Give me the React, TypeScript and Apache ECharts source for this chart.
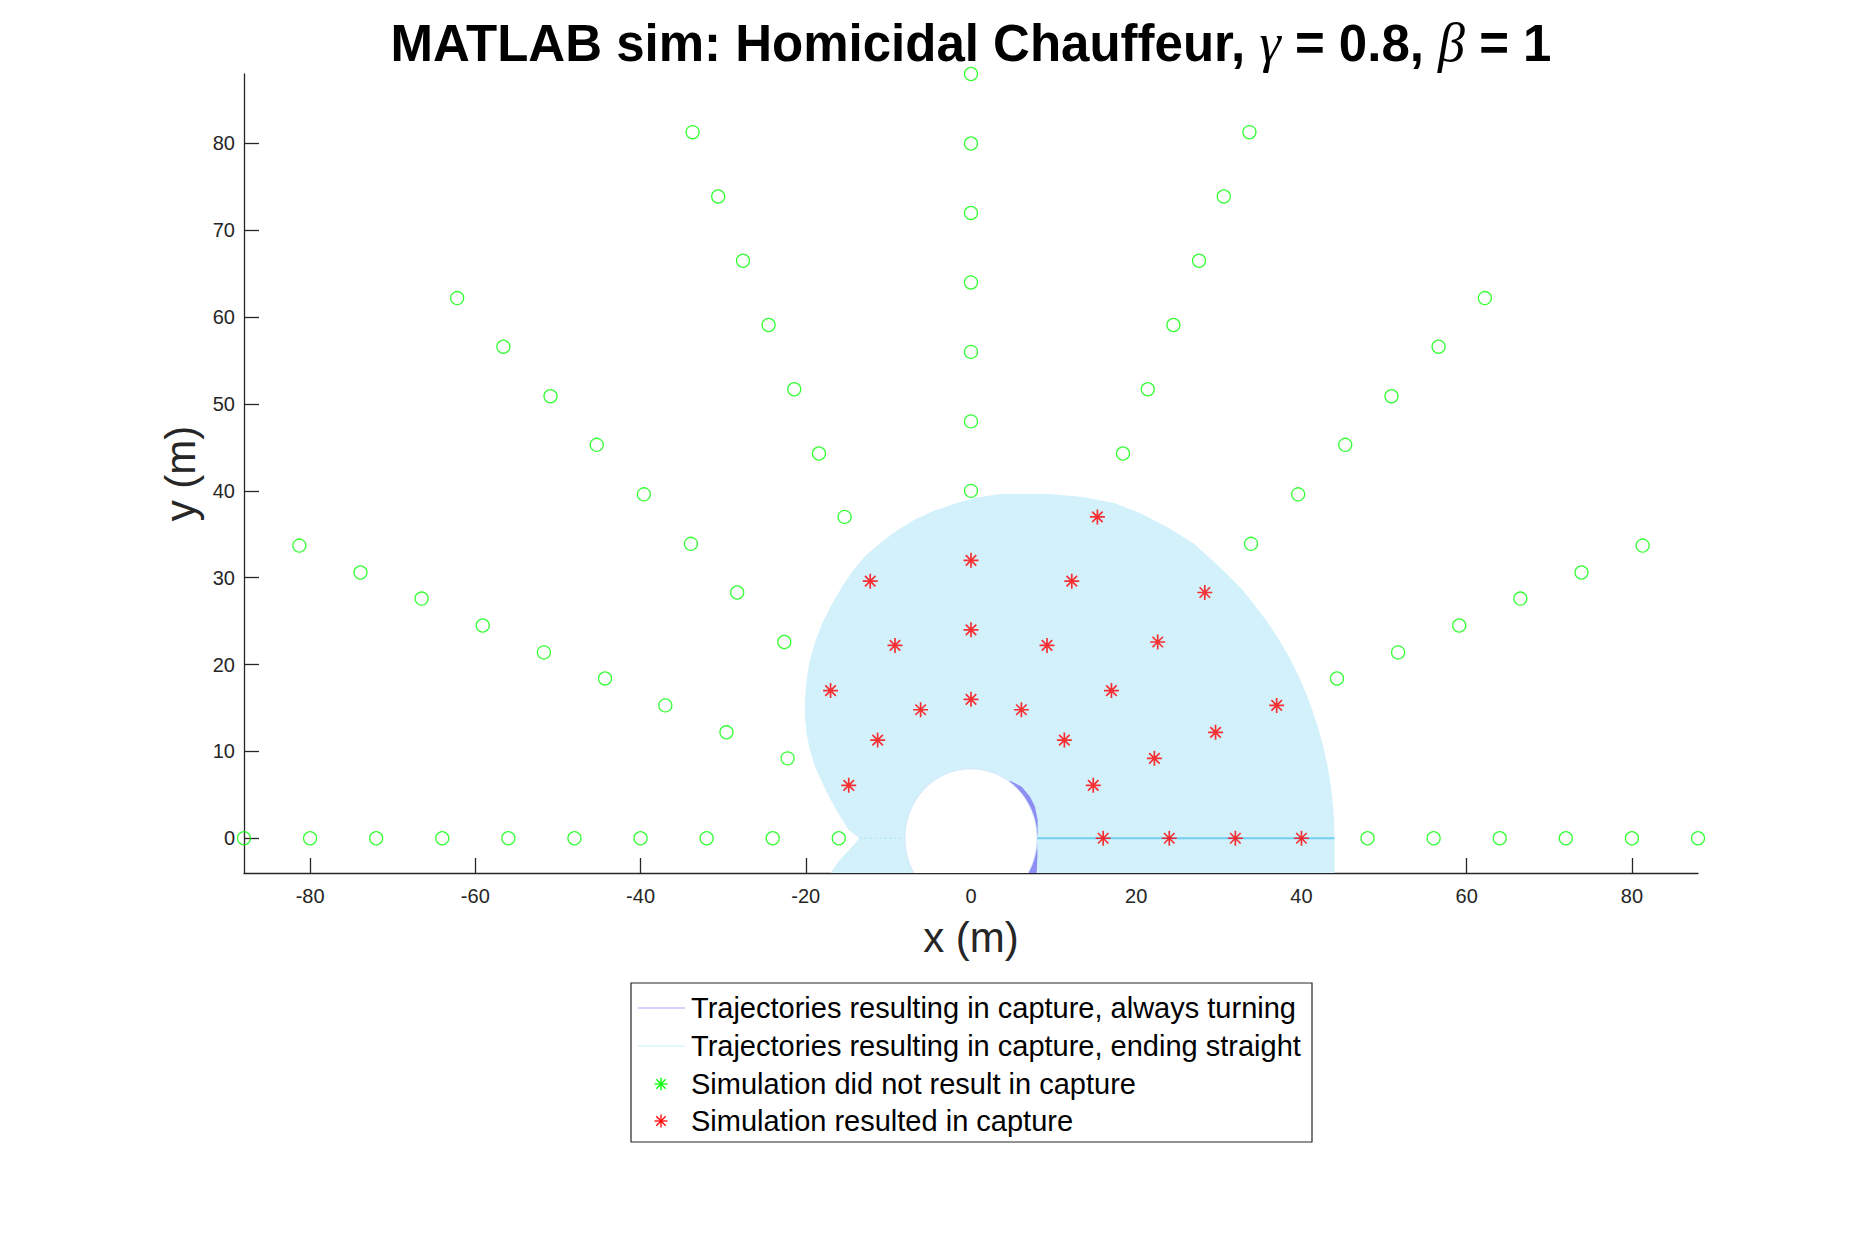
import React, { useEffect, useRef } from "react";
import * as echarts from "echarts";

// ---------------- data ----------------
const xTicks = [-80, -60, -40, -20, 0, 20, 40, 60, 80];
const yTicks = [0, 10, 20, 30, 40, 50, 60, 70, 80];

const legendLabels = [
  "Trajectories resulting in capture, always turning",
  "Trajectories resulting in capture, ending straight",
  "Simulation did not result in capture",
  "Simulation resulted in capture",
];

// initial positions whose simulation did NOT end in capture
const notCaptured: [number, number][] = [
  [48, 0], [56, 0], [64, 0], [72, 0], [80, 0], [88, 0],
  [44.3, 18.4], [51.7, 21.4], [59.1, 24.5], [66.5, 27.6], [73.9, 30.6], [81.3, 33.7],
  [33.9, 33.9], [39.6, 39.6], [45.3, 45.3], [50.9, 50.9], [56.6, 56.6], [62.2, 62.2],
  [18.4, 44.3], [21.4, 51.7], [24.5, 59.1], [27.6, 66.5], [30.6, 73.9], [33.7, 81.3],
  [0, 40], [0, 48], [0, 56], [0, 64], [0, 72], [0, 80], [0, 88],
  [-15.3, 37.0], [-18.4, 44.3], [-21.4, 51.7], [-24.5, 59.1], [-27.6, 66.5], [-30.6, 73.9], [-33.7, 81.3],
  [-22.6, 22.6], [-28.3, 28.3], [-33.9, 33.9], [-39.6, 39.6], [-45.3, 45.3], [-50.9, 50.9], [-56.6, 56.6], [-62.2, 62.2],
  [-22.2, 9.2], [-29.6, 12.2], [-37.0, 15.3], [-44.3, 18.4], [-51.7, 21.4], [-59.1, 24.5], [-66.5, 27.6], [-73.9, 30.6], [-81.3, 33.7],
  [-16, 0], [-24, 0], [-32, 0], [-40, 0], [-48, 0], [-56, 0], [-64, 0], [-72, 0], [-80, 0], [-88, 0],
];

// initial positions whose simulation ended in capture
const captured: [number, number][] = [
  [16, 0], [24, 0], [32, 0], [40, 0],
  [14.8, 6.1], [22.2, 9.2], [29.6, 12.2], [37.0, 15.3],
  [11.3, 11.3], [17.0, 17.0], [22.6, 22.6], [28.3, 28.3],
  [6.1, 14.8], [9.2, 22.2], [12.2, 29.6], [15.3, 37.0],
  [0, 16], [0, 24], [0, 32],
  [-6.1, 14.8], [-9.2, 22.2], [-12.2, 29.6],
  [-11.3, 11.3], [-17.0, 17.0],
  [-14.8, 6.1],
];

// outline of the area swept by "ending straight" trajectories
const endingStraightRegion: [number, number][] = [
  [44, -4], [44, 0], [43.95, 2], [43.8, 4], [43.5, 6.4], [43.1, 8.6], [42.6, 10.7],
  [42.0, 12.8], [41.3, 14.8], [40.5, 16.8], [39.6, 18.8], [38.5, 20.9], [37.2, 23.0],
  [35.8, 25.0], [34.2, 27.0], [32.7, 28.8], [31.0, 30.4], [29.2, 32.0], [27.0, 33.9],
  [24.0, 35.7], [20.6, 37.4], [17.3, 38.6], [13.5, 39.3], [9.6, 39.65], [3.5, 39.65],
  [0.5, 39.2], [-1.7, 38.6], [-4.5, 37.7], [-6.9, 36.65], [-9.0, 35.4], [-11.0, 34.0],
  [-12.8, 32.5], [-14.3, 30.8], [-15.6, 29.0], [-16.8, 27.0], [-17.9, 25.0], [-18.8, 22.8],
  [-19.5, 20.5], [-19.9, 18.3], [-20.1, 16.0], [-20.1, 14.0], [-19.9, 12.0], [-19.5, 10.2],
  [-18.9, 8.3], [-18.1, 6.6], [-17.2, 4.8], [-16.1, 2.9], [-14.8, 0.95], [-13.5, 0],
  [-14.4, -0.97], [-15.9, -2.5], [-17.0, -4],
];

// outline of the "always turning" trajectories (crescents beside the capture circle)
const alwaysTurningUpper: [number, number][] = [
  [4.72, 6.63], [6.14, 5.94], [7.15, 4.79], [7.75, 3.64], [8.07, 2.1], [8.07, 0.6], [7.95, 0], [0, 0],
];
const alwaysTurningLower: [number, number][] = [
  [7.95, 0], [8.05, -1.7], [7.95, -4], [0, -4], [0, 0],
];

// final straight segments along the x axis
const straightFinal: [number, number][] = [[8, 0], [44, 0]];
const leftSeam: [number, number][] = [[-13.5, 0], [-8, 0]];

// capture circle: centre x, centre y, radius
const captureCircle: [number, number, number][] = [[0, 0, 8]];

// ---------------- styles ----------------
const AX = "#262626";
const CYAN_FILL = "#d2f1fb";
const CYAN_LINE = "#72cff1";
const BLUE_FILL = "#8d8df3";
const GREEN = "#00ff00";
const RED = "#ff0000";
const FONT = "'Liberation Sans', Arial, Helvetica, sans-serif";
const ASTERISK =
  "path://M6 0 L6 12 M0 6 L12 6 M1.8 1.8 L10.2 10.2 M1.8 10.2 L10.2 1.8";

function polygonSeries(name: string, pts: [number, number][], fill: string, z: number) {
  return {
    type: "custom",
    name,
    z,
    clip: true,
    silent: true,
    data: pts,
    encode: { x: 0, y: 1 },
    renderItem: (params: any, api: any) => {
      if (params.dataIndex !== 0) return null;
      const points = pts.map((p) => api.coord(p));
      return { type: "polygon", shape: { points }, style: { fill, stroke: "none" } };
    },
  };
}

function asteriskLines(cx: number, cy: number, color: string, r: number) {
  const d = r * 0.72;
  const segs = [
    [0, -r, 0, r],
    [-r, 0, r, 0],
    [-d, -d, d, d],
    [-d, d, d, -d],
  ];
  return segs.map((s) => ({
    type: "line",
    z: 12,
    shape: { x1: cx + s[0], y1: cy + s[1], x2: cx + s[2], y2: cy + s[3] },
    style: { stroke: color, lineWidth: 1.3 },
  }));
}

export default function App() {
  const ref = useRef<HTMLDivElement>(null);

  useEffect(() => {
    if (!ref.current) return;
    const chart = echarts.init(ref.current, undefined, { renderer: "svg" });

    const legendX = 631;
    const legendY = 983;
    const legendW = 681;
    const legendH = 159;
    const rowY = [1008, 1046, 1084, 1121];
    const legendMarks: any[] = [
      {
        type: "line",
        z: 12,
        shape: { x1: 638, y1: rowY[0], x2: 685, y2: rowY[0] },
        style: { stroke: "#a3a3f4", lineWidth: 1.2 },
      },
      {
        type: "line",
        z: 12,
        shape: { x1: 638, y1: rowY[1], x2: 685, y2: rowY[1] },
        style: { stroke: "#c9edfb", lineWidth: 1.2 },
      },
      ...asteriskLines(661, rowY[2], GREEN, 6.5),
      ...asteriskLines(661, rowY[3], RED, 6.5),
    ];
    const legendTexts = legendLabels.map((t, i) => ({
      type: "text",
      z: 12,
      x: 691,
      y: rowY[i],
      style: {
        text: t,
        fontFamily: FONT,
        fontSize: 29,
        fill: "#000",
        align: "left",
        verticalAlign: "middle",
      },
    }));

    const option: any = {
      animation: false,
      backgroundColor: "#ffffff",
      grid: {
        left: 244,
        top: 74,
        width: 1454,
        height: 799,
        containLabel: false,
        outerBoundsMode: "none",
      },
      xAxis: {
        type: "value",
        min: -88,
        max: 88,
        name: "x (m)",
        nameLocation: "middle",
        nameGap: 43,
        nameTextStyle: { fontFamily: FONT, fontSize: 42, color: AX },
        axisLine: { show: true, onZero: false, lineStyle: { color: AX, width: 1.3 } },
        axisTick: {
          show: true,
          inside: true,
          length: 15,
          customValues: xTicks,
          lineStyle: { color: AX, width: 1.3 },
        },
        axisLabel: {
          customValues: xTicks,
          fontFamily: FONT,
          fontSize: 20,
          color: AX,
          margin: 13,
        },
        splitLine: { show: false },
      },
      yAxis: {
        type: "value",
        min: -4,
        max: 88,
        name: "y (m)",
        nameLocation: "middle",
        nameGap: 39,
        nameRotate: 90,
        nameTextStyle: { fontFamily: FONT, fontSize: 42, color: AX },
        axisLine: { show: true, onZero: false, lineStyle: { color: AX, width: 1.3 } },
        axisTick: {
          show: true,
          inside: true,
          length: 15,
          customValues: yTicks,
          lineStyle: { color: AX, width: 1.3 },
        },
        axisLabel: {
          customValues: yTicks,
          fontFamily: FONT,
          fontSize: 20,
          color: AX,
          margin: 9,
        },
        splitLine: { show: false },
      },
      series: [
        polygonSeries(legendLabels[1], endingStraightRegion, CYAN_FILL, 1),
        polygonSeries(legendLabels[0], alwaysTurningUpper, BLUE_FILL, 2),
        polygonSeries(legendLabels[0] + " ", alwaysTurningLower, BLUE_FILL, 2),
        {
          type: "custom",
          name: "capture circle",
          z: 3,
          clip: true,
          silent: true,
          data: captureCircle,
          encode: { x: 0, y: 1 },
          renderItem: (params: any, api: any) => {
            const c = api.coord([api.value(0), api.value(1)]);
            const s = api.size([api.value(2), api.value(2)], [api.value(0), api.value(1)]);
            return {
              type: "ellipse",
              shape: { cx: c[0], cy: c[1], rx: s[0], ry: s[1] },
              style: { fill: "#ffffff", stroke: "#cfe3fb", lineWidth: 0.8 },
            };
          },
        },
        {
          type: "line",
          name: "straight final",
          z: 4,
          data: straightFinal,
          symbol: "none",
          silent: true,
          lineStyle: { color: CYAN_LINE, width: 2 },
        },
        {
          type: "line",
          name: "left seam",
          z: 4,
          data: leftSeam,
          symbol: "none",
          silent: true,
          lineStyle: { color: "#a9e2f6", width: 1, type: [2, 3] },
        },
        {
          type: "scatter",
          name: legendLabels[2],
          z: 5,
          data: notCaptured,
          symbol: "circle",
          symbolSize: 13,
          itemStyle: { color: "rgba(0,0,0,0)", borderColor: GREEN, borderWidth: 1.3 },
        },
        {
          type: "scatter",
          name: legendLabels[3],
          z: 6,
          data: captured,
          symbol: ASTERISK,
          symbolSize: 15,
          itemStyle: { color: "rgba(0,0,0,0)", borderColor: RED, borderWidth: 1.7 },
        },
      ],
      graphic: [
        {
          type: "text",
          x: 971,
          y: 43,
          z: 10,
          style: {
            text: "{a|MATLAB sim: Homicidal Chauffeur, }{g|γ}{a| = 0.8, }{g|β}{a| = 1}",
            align: "center",
            verticalAlign: "middle",
            rich: {
              a: { fontFamily: FONT, fontWeight: "bold", fontSize: 51, fill: "#000" },
              g: {
                fontFamily: "'Liberation Serif', 'Times New Roman', serif",
                fontStyle: "italic",
                fontSize: 54,
                fill: "#000",
              },
            },
          },
        },
        {
          type: "rect",
          shape: { x: legendX, y: legendY, width: legendW, height: legendH },
          style: { fill: "#ffffff", stroke: "#262626", lineWidth: 1.2 },
          z: 10,
        },
        ...legendMarks,
        ...legendTexts,
      ],
    };

    chart.setOption(option);
    return () => chart.dispose();
  }, []);

  return (
    <div
      ref={ref}
      style={{ position: "fixed", left: 0, top: 0, width: 1875, height: 1250, background: "#fff" }}
    />
  );
}
